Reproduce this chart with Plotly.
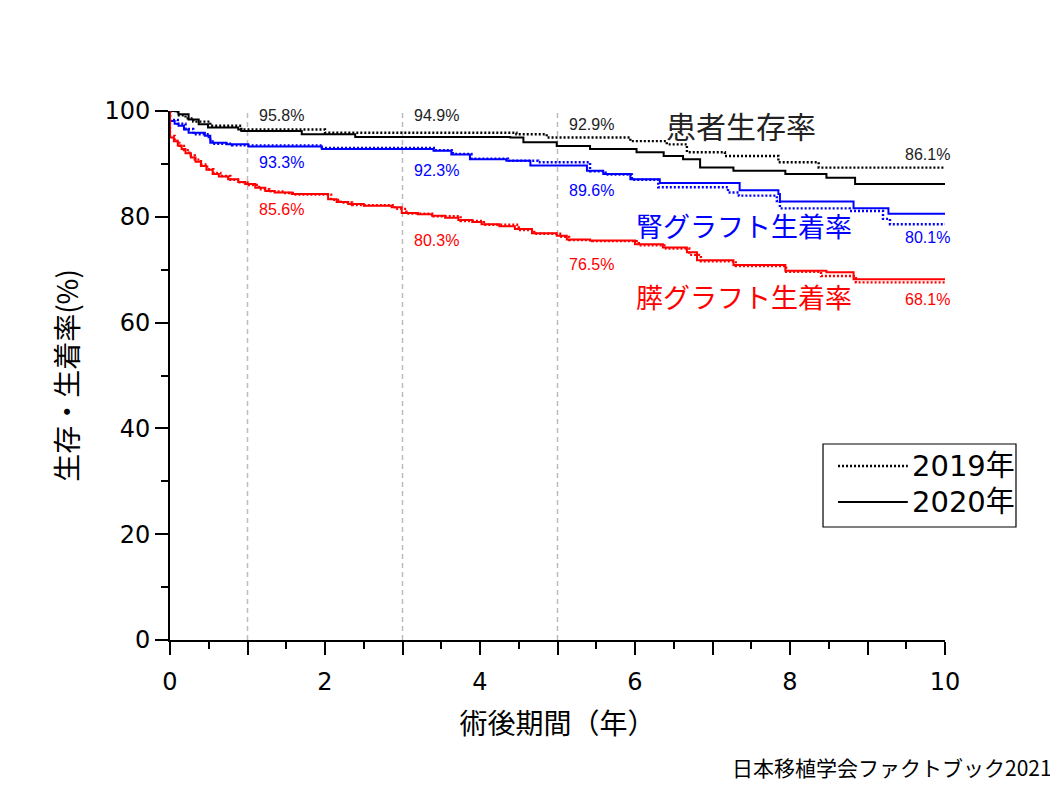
import plotly.graph_objects as go

# patient survival (患者生存率)
pt_2019_t = [0, 0.1, 0.2, 0.3, 0.52, 0.92, 2.0, 4.47, 4.86, 5.94, 6.41, 6.67, 7.16, 7.85, 8.37, 10]
pt_2019_v = [100, 99.2, 98.6, 98.0, 97.2, 96.5, 95.9, 95.6, 95.0, 94.3, 93.7, 92.2, 91.5, 90.3, 89.3, 89.3]
pt_2020_t = [0, 0.11, 0.24, 0.37, 0.49, 0.88, 0.92, 1.70, 2.39, 4.39, 4.56, 4.99, 5.42, 6.02, 6.37, 6.62,
             6.84, 7.27, 7.94, 8.47, 8.84, 10]
pt_2020_v = [100, 99.4, 98.4, 97.5, 96.9, 96.5, 96.2, 95.6, 95.1, 95.0, 94.1, 93.4, 92.8, 92.2, 91.5, 90.9,
             89.3, 88.7, 88.1, 87.4, 86.2, 86.2]

# kidney graft survival (腎グラフト生着率)
kd_2019_t = [0, 0, 0.1, 0.2, 0.3, 0.5, 0.55, 0.8, 1.96, 3.42, 3.65, 3.89, 4.36, 4.75, 5.42, 5.62, 5.96,
             6.3, 7.2, 7.34, 7.83, 7.87, 8.77, 9.2, 9.29, 10]
kd_2019_v = [100, 98.3, 97.6, 96.6, 95.6, 94.6, 93.8, 93.5, 93.0, 92.6, 91.9, 91.0, 90.6, 90.3, 88.6, 88.0,
             87.0, 85.6, 84.6, 84.0, 83.0, 81.6, 81.1, 79.6, 78.6, 78.6]
kd_2020_t = [0, 0, 0.06, 0.11, 0.18, 0.24, 0.45, 0.52, 0.73, 1.01, 1.96, 3.40, 3.63, 3.87, 4.34, 4.65,
             5.38, 5.59, 5.94, 6.32, 7.35, 7.85, 7.87, 8.82, 9.27, 10]
kd_2020_v = [100, 98.1, 97.6, 97.2, 96.5, 95.9, 95.3, 94.0, 93.7, 93.3, 92.8, 92.5, 91.8, 90.9, 90.6, 89.7,
             88.7, 88.1, 87.1, 86.4, 85.0, 84.3, 82.9, 81.6, 80.6, 80.6]

# pancreas graft survival (膵グラフト生着率)
pc_2019_t = [0, 0, 0.06, 0.12, 0.18, 0.25, 0.32, 0.4, 0.48, 0.56, 0.65, 0.78, 0.9, 1.0, 1.15, 1.28, 1.45,
             1.6, 2.08, 2.2, 2.35, 2.9, 3.05, 3.4, 3.75, 4.05, 4.5, 4.7, 5.05, 5.15, 5.45, 6.05, 6.4, 6.7,
             6.85, 7.3, 7.95, 8.4, 8.85, 10]
pc_2019_v = [100, 95.3, 94.4, 93.4, 92.6, 91.6, 90.8, 89.9, 89.0, 88.3, 87.7, 87.0, 86.5, 86.0, 85.2, 84.8,
             84.5, 84.2, 83.2, 82.7, 82.2, 81.5, 80.6, 80.1, 79.2, 78.5, 77.5, 76.8, 76.2, 75.6, 75.4, 74.6,
             74.0, 72.8, 71.6, 70.7, 69.6, 68.8, 67.6, 67.6]
pc_2020_t = [0, 0, 0.05, 0.1, 0.15, 0.2, 0.27, 0.33, 0.4, 0.47, 0.55, 0.63, 0.75, 0.88, 0.97, 1.1, 1.23,
             1.35, 1.57, 2.04, 2.15, 2.30, 2.5, 2.86, 2.99, 3.2, 3.38, 3.55, 3.72, 3.9, 4.02, 4.25, 4.45,
             4.67, 4.99, 5.12, 5.42, 6.0, 6.36, 6.67, 6.8, 7.27, 7.94, 8.47, 8.82, 10]
pc_2020_v = [100, 95.0, 94.3, 93.5, 92.8, 92.0, 91.2, 90.4, 89.6, 88.9, 88.1, 87.6, 87.1, 86.6, 86.2, 85.5,
             84.9, 84.6, 84.3, 83.3, 82.8, 82.4, 82.1, 81.8, 80.7, 80.5, 80.2, 79.8, 79.4, 79.0, 78.6, 78.2,
             77.7, 76.9, 76.4, 75.7, 75.5, 74.8, 74.2, 73.3, 71.8, 70.9, 69.8, 69.5, 68.2, 68.2]

# labelled values at 1, 3, 5, 10 years
label_years = [1, 3, 5, 10]
pt_labels = ["95.8%", "94.9%", "92.9%", "86.1%"]
kd_labels = ["93.3%", "92.3%", "89.6%", "80.1%"]
pc_labels = ["85.6%", "80.3%", "76.5%", "68.1%"]
pt_label_y = [99.2, 99.2, 97.5, 91.7]
kd_label_y = [90.2, 88.7, 84.9, 76.0]
pc_label_y = [81.3, 75.6, 70.9, 64.3]

JP = "Noto Sans CJK JP"
NUM = "DejaVu Sans"
LBL = "Liberation Sans"

fig = go.Figure()

series = [
    (pt_2019_t, pt_2019_v, "black", "dot", "患者 2019年"),
    (pt_2020_t, pt_2020_v, "black", "solid", "患者 2020年"),
    (kd_2019_t, kd_2019_v, "#0000ff", "dot", "腎 2019年"),
    (kd_2020_t, kd_2020_v, "#0000ff", "solid", "腎 2020年"),
    (pc_2019_t, pc_2019_v, "#ff0000", "dot", "膵 2019年"),
    (pc_2020_t, pc_2020_v, "#ff0000", "solid", "膵 2020年"),
]
for t, v, col, dash, name in series:
    if dash == "solid":
        ln = dict(color=col, width=2, shape="hv")
    else:
        ln = dict(color=col, width=2.4, dash="2px,2px", shape="hv")
    fig.add_trace(go.Scatter(x=t, y=v, mode="lines", line=ln, name=name, showlegend=False, cliponaxis=False))

# dashed guides at 1, 3, 5 years
for yr in [1, 3, 5]:
    fig.add_shape(type="line", x0=yr, x1=yr, y0=0, y1=100, xref="x", yref="y",
                  line=dict(color="#bdbdbd", width=1.5, dash="5px,4px"), layer="below")

# value labels
for labels, ys, col in [(pt_labels, pt_label_y, "#222222"), (kd_labels, kd_label_y, "#0000ff"),
                        (pc_labels, pc_label_y, "#ff0000")]:
    for yr, txt, yy in zip(label_years, labels, ys):
        if yr == 10:
            fig.add_annotation(x=yr, y=yy, text=txt, showarrow=False, xanchor="right", yanchor="middle",
                               xshift=7, font=dict(family=LBL, size=16, color=col))
        else:
            fig.add_annotation(x=yr, y=yy, text=txt, showarrow=False, xanchor="left", yanchor="middle",
                               xshift=9, font=dict(family=LBL, size=16, color=col))

# series names
fig.add_annotation(x=6.38, y=97.4, text="患者生存率", showarrow=False, xanchor="left", yanchor="middle",
                   font=dict(family=JP, size=30, color="#222222"))
fig.add_annotation(x=5.99, y=78.4, text="腎グラフト生着率", showarrow=False, xanchor="left", yanchor="middle",
                   font=dict(family=JP, size=27, color="#0000ff"))
fig.add_annotation(x=5.99, y=65.0, text="膵グラフト生着率", showarrow=False, xanchor="left", yanchor="middle",
                   font=dict(family=JP, size=27, color="#ff0000"))

# legend box (drawn by hand so the line samples are long like the original)
fig.add_shape(type="rect", xref="paper", yref="paper", x0=0.8426, x1=1.0916, y0=0.2136, y1=0.3705,
              line=dict(color="black", width=1.2), fillcolor="white")
fig.add_shape(type="line", xref="paper", yref="paper", x0=0.862, x1=0.952, y0=0.3289, y1=0.3289,
              line=dict(color="black", width=2.4, dash="2px,2px"))
fig.add_shape(type="line", xref="paper", yref="paper", x0=0.862, x1=0.952, y0=0.2609, y1=0.2609,
              line=dict(color="black", width=2))
fig.add_annotation(xref="paper", yref="paper", x=0.955, y=0.3289, text="2019年", showarrow=False,
                   xanchor="left", yanchor="middle", font=dict(family=NUM + ", " + JP, size=29, color="black"))
fig.add_annotation(xref="paper", yref="paper", x=0.955, y=0.2609, text="2020年", showarrow=False,
                   xanchor="left", yanchor="middle", font=dict(family=NUM + ", " + JP, size=29, color="black"))

# source note
fig.add_annotation(xref="paper", yref="paper", x=1.14, y=-0.24, text="日本移植学会ファクトブック2021",
                   showarrow=False, xanchor="right", yanchor="middle",
                   font=dict(family=JP, size=21, color="black"))

fig.update_xaxes(range=[0, 10], tickvals=[0, 1, 2, 3, 4, 5, 6, 7, 8, 9, 10],
                 ticktext=["0", "", "2", "", "4", "", "6", "", "8", "", "10"],
                 ticks="outside", ticklen=13, tickwidth=2, tickcolor="black", ticklabelstandoff=6,
                 minor=dict(dtick=0.5, ticks="outside", ticklen=7, tickwidth=2, tickcolor="black"),
                 showline=True, linecolor="black", linewidth=2, showgrid=False, zeroline=False,
                 tickfont=dict(family=NUM, size=24, color="black"), automargin=False,
                 title=dict(text="術後期間（年）", font=dict(family=JP, size=28, color="black"), standoff=20))
fig.update_yaxes(range=[0, 100], tickvals=[0, 20, 40, 60, 80, 100],
                 ticks="outside", ticklen=13, tickwidth=2, tickcolor="black",
                 minor=dict(dtick=10, ticks="outside", ticklen=7, tickwidth=2, tickcolor="black"),
                 showline=True, linecolor="black", linewidth=2, showgrid=False, zeroline=False,
                 tickfont=dict(family=NUM, size=24, color="black"), automargin=False,
                 title=dict(text="生存・生着率(%)", font=dict(family=JP, size=28, color="black"), standoff=18))

# the page adds an 8px body margin, so the figure is a bit smaller than the window
fig.update_layout(width=1050, height=786, plot_bgcolor="white", paper_bgcolor="white",
                  margin=dict(l=162, r=113, t=103, b=154), showlegend=False)

fig.write_html("out.html")
